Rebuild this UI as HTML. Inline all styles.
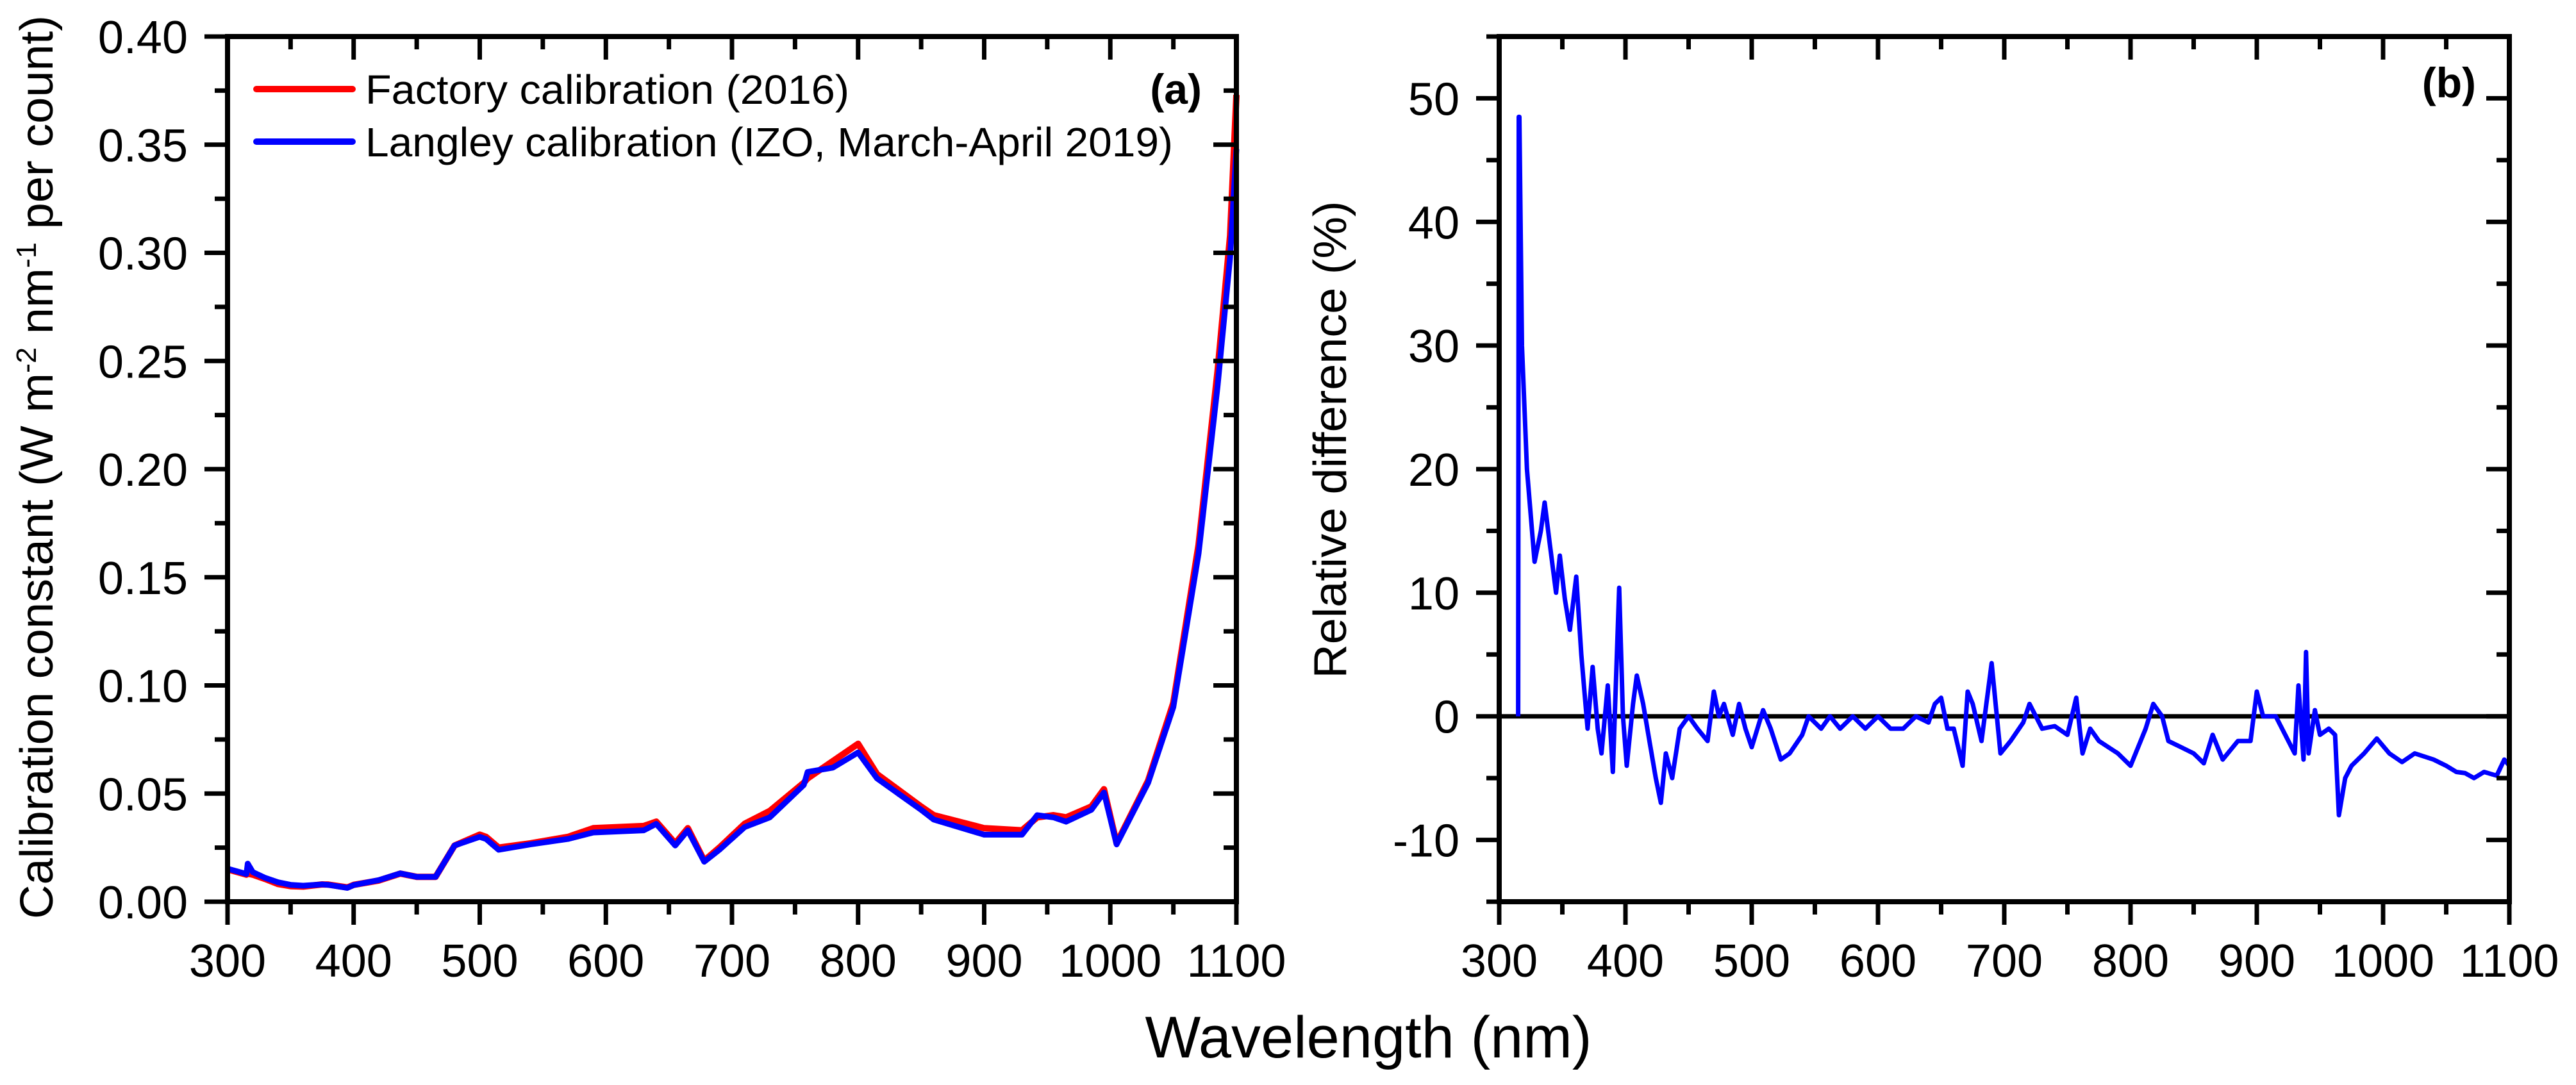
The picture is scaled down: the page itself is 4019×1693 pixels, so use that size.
<!DOCTYPE html>
<html><head><meta charset="utf-8"><style>
html,body{margin:0;padding:0;background:#fff;}
svg{display:block;font-family:"Liberation Sans",Arial,sans-serif;}
</style></head><body>
<svg id="fig" width="4019" height="1693" viewBox="0 0 4019 1693" xmlns="http://www.w3.org/2000/svg">
<g id="pa"></g>
<g id="pb"></g>
<text x="2135" y="1650" font-size="92" text-anchor="middle">Wavelength (nm)</text>
</svg>
<script>
// ---- Panel (a) data ----
const waveA = [300,315,316,320,330,340,350,360,375,380,395,400,420,437,450,465,480,500,505,515,540,570,590,630,640,655,665,678,690,710,730,757,760,780,800,815,850,860,900,930,942,955,965,985,995,1005,1030,1050,1070,1085,1095,1100];
const langley = [0.0153,0.0128,0.0176,0.0137,0.011,0.009,0.0078,0.0074,0.008,0.0078,0.0064,0.0077,0.010,0.0131,0.0115,0.0115,0.026,0.030,0.029,0.024,0.0265,0.029,0.032,0.033,0.036,0.026,0.033,0.0185,0.024,0.0345,0.039,0.054,0.060,0.062,0.069,0.057,0.0425,0.038,0.031,0.031,0.040,0.039,0.037,0.0425,0.0505,0.0265,0.055,0.090,0.161,0.238,0.298,0.348];
const factory = [0.0150,0.0125,0.0130,0.0125,0.0105,0.0082,0.0072,0.0070,0.0080,0.0079,0.0066,0.0078,0.0098,0.0130,0.0115,0.0115,0.026,0.031,0.030,0.025,0.027,0.030,0.034,0.035,0.037,0.027,0.034,0.019,0.025,0.036,0.042,0.055,0.057,0.065,0.073,0.059,0.044,0.040,0.034,0.033,0.039,0.040,0.039,0.044,0.052,0.027,0.056,0.092,0.165,0.245,0.308,0.373];
const yTicksA = ["0.00","0.05","0.10","0.15","0.20","0.25","0.30","0.35","0.40"];
const xTicks = ["300","400","500","600","700","800","900","1000","1100"];
// ---- Panel (b) data ----
const waveB = [315,315.5,316,318,322,328,333,336,340,345,348,352,356,361,365,370,374,378,381,386,390,395,398,401,406,409,414,419,424,428,432,437,443,450,457,465,470,474,478,485,490,495,500,509,515,523,530,540,545,555,562,570,580,590,600,610,620,630,640,645,650,655,660,667,671,675,682,690,697,705,715,720,730,740,750,757,762,768,775,790,800,812,818,825,830,840,850,858,865,873,885,895,900,905,915,925,930,933,937,939,941,946,950,957,962,965,970,975,985,995,1005,1015,1025,1040,1050,1058,1065,1072,1080,1090,1096,1100];
const relDiff = [0,48.5,48.5,30,20,12.5,15,17.3,14,10,13,9.5,7,11.3,5,-1,4,-1,-3,2.5,-4.5,10.4,0,-4,1,3.3,1,-2,-5,-7,-3,-5,-1,0,-1,-2,2,0,1,-1.5,1,-1,-2.5,0.5,-1,-3.5,-3,-1.5,0,-1,0,-1,0,-1,0,-1,-1,0,-0.5,1,1.5,-1,-1,-4,2,1,-2,4.3,-3,-2,-0.5,1,-1,-0.8,-1.5,1.5,-3,-1,-2,-3,-4,-1,1,0,-2,-2.5,-3,-3.8,-1.5,-3.5,-2,-2,2,0,0,-2,-3,2.5,-3.5,5.2,-3,0.5,-1.5,-1,-1.5,-8,-5,-4,-3,-1.8,-3,-3.7,-3,-3.5,-4,-4.5,-4.6,-5,-4.5,-4.8,-3.5,-4];
const yTicksB = ["-10","0","10","20","30","40","50"];

const NS = "http://www.w3.org/2000/svg";
function mk(parent, tag, attrs, text){
  const e = document.createElementNS(NS, tag);
  for (const k in attrs) e.setAttribute(k, attrs[k]);
  if (text !== undefined) e.textContent = text;
  parent.appendChild(e);
  return e;
}
function drawAxes(g, L, R, T, B, xs, ys, yTicks, yMinorStep, prefix){
  const ax = mk(g,'rect',{x:L,y:T,width:R-L,height:B-T,fill:'none',stroke:'#000','stroke-width':8});
  
  
  // x ticks
  for (let w=300; w<=1100; w+=50){
    const major = (w%100===0);
    const x = xs(w);
    const len = major?36:20;
    const t1 = mk(g,'line',{x1:x,y1:B,x2:x,y2:B+len,stroke:'#000','stroke-width':7});
    
    
    const t2 = mk(g,'line',{x1:x,y1:T,x2:x,y2:T+len,stroke:'#000','stroke-width':7});
    
    
  }
  xTicks.forEach(s=>{
    const tl = mk(g,'text',{x:xs(+s),y:1524,'font-size':72,'text-anchor':'middle'},s);
    
    
  });
  // y ticks
  const y0 = +yTicks[0], y1 = +yTicks[yTicks.length-1];
  const B0 = ys.lo, B1 = ys.hi;
  for (let v=B0; v<=B1+1e-9; v+=yMinorStep){
    const isMajor = yTicks.some(s=>Math.abs(+s-v)<1e-9);
    const y = ys(v);
    const len = isMajor?36:20;
    const t1 = mk(g,'line',{x1:L-len,y1:y,x2:L,y2:y,stroke:'#000','stroke-width':7});
    
    
    const t2 = mk(g,'line',{x1:R-len,y1:y,x2:R,y2:y,stroke:'#000','stroke-width':7});
    
    
  }
  yTicks.forEach(s=>{
    const tl = mk(g,'text',{x:L-62,y:ys(+s)+26,'font-size':72,'text-anchor':'end'},s);
    
    
  });
}
function pathD(xArr, yArr, xs, ys){
  return xArr.map((w,i)=>(i?'L':'M')+xs(w).toFixed(1)+','+ys(yArr[i]).toFixed(1)).join(' ');
}

// Panel a
const ga = document.getElementById('pa');
const La=355,Ra=1929,Ta=57,Ba=1407;
const xsA = w => La + (w-300)/800*(Ra-La);
const ysA = v => Ba - v/0.40*(Ba-Ta); ysA.lo=0; ysA.hi=0.40;
const cr = mk(ga,'path',{d:pathD(waveA,factory,xsA,ysA),fill:'none',stroke:'#ff0000','stroke-width':10,'stroke-linejoin':'round'});


const cb = mk(ga,'path',{d:pathD(waveA,langley,xsA,ysA),fill:'none',stroke:'#0000ff','stroke-width':9,'stroke-linejoin':'round'});


drawAxes(ga,La,Ra,Ta,Ba,xsA,ysA,yTicksA,0.025,'a');
const l1 = mk(ga,'line',{x1:400,y1:139,x2:550,y2:139,stroke:'#ff0000','stroke-width':10,'stroke-linecap':'round'});


const l2 = mk(ga,'line',{x1:400,y1:221,x2:550,y2:221,stroke:'#0000ff','stroke-width':10,'stroke-linecap':'round'});


const lt1 = mk(ga,'text',{x:570,y:162,'font-size':64,textLength:755,lengthAdjust:'spacingAndGlyphs'},'Factory calibration (2016)');


const lt2 = mk(ga,'text',{x:570,y:244,'font-size':64,textLength:1260,lengthAdjust:'spacingAndGlyphs'},'Langley calibration (IZO, March-April 2019)');


const pa = mk(ga,'text',{x:1875,y:162,'font-size':66,'font-weight':'bold','text-anchor':'end'},'(a)');


const yta = mk(ga,'text',{transform:'translate(82,729) rotate(-90)','font-size':72,'text-anchor':'middle',textLength:1410,lengthAdjust:'spacingAndGlyphs'});


yta.innerHTML = 'Calibration constant (W m<tspan dy="-26" font-size="44">-2</tspan><tspan dy="26"> nm</tspan><tspan dy="-26" font-size="44">-1</tspan><tspan dy="26"> per count)</tspan>';

// Panel b
const gb = document.getElementById('pb');
const Lb=2339,Rb=3915,Tb=57,Bb=1407;
const xsB = w => Lb + (w-300)/800*(Rb-Lb);
const ysB = v => Bb - (v+15)/70*(Bb-Tb); ysB.lo=-15; ysB.hi=55;
const zl = mk(gb,'line',{x1:Lb,y1:ysB(0),x2:Rb,y2:ysB(0),stroke:'#000','stroke-width':7});


const rl = mk(gb,'path',{d:pathD(waveB,relDiff,xsB,ysB),fill:'none',stroke:'#0000ff','stroke-width':7,'stroke-linejoin':'round'});


drawAxes(gb,Lb,Rb,Tb,Bb,xsB,ysB,yTicksB,5,'b');
const pbl = mk(gb,'text',{x:3863,y:152,'font-size':66,'font-weight':'bold','text-anchor':'end'},'(b)');


const ytb = mk(gb,'text',{transform:'translate(2100,686) rotate(-90)','font-size':72,'text-anchor':'middle',textLength:745,lengthAdjust:'spacingAndGlyphs'},'Relative difference (%)');


</script>
</body></html>
